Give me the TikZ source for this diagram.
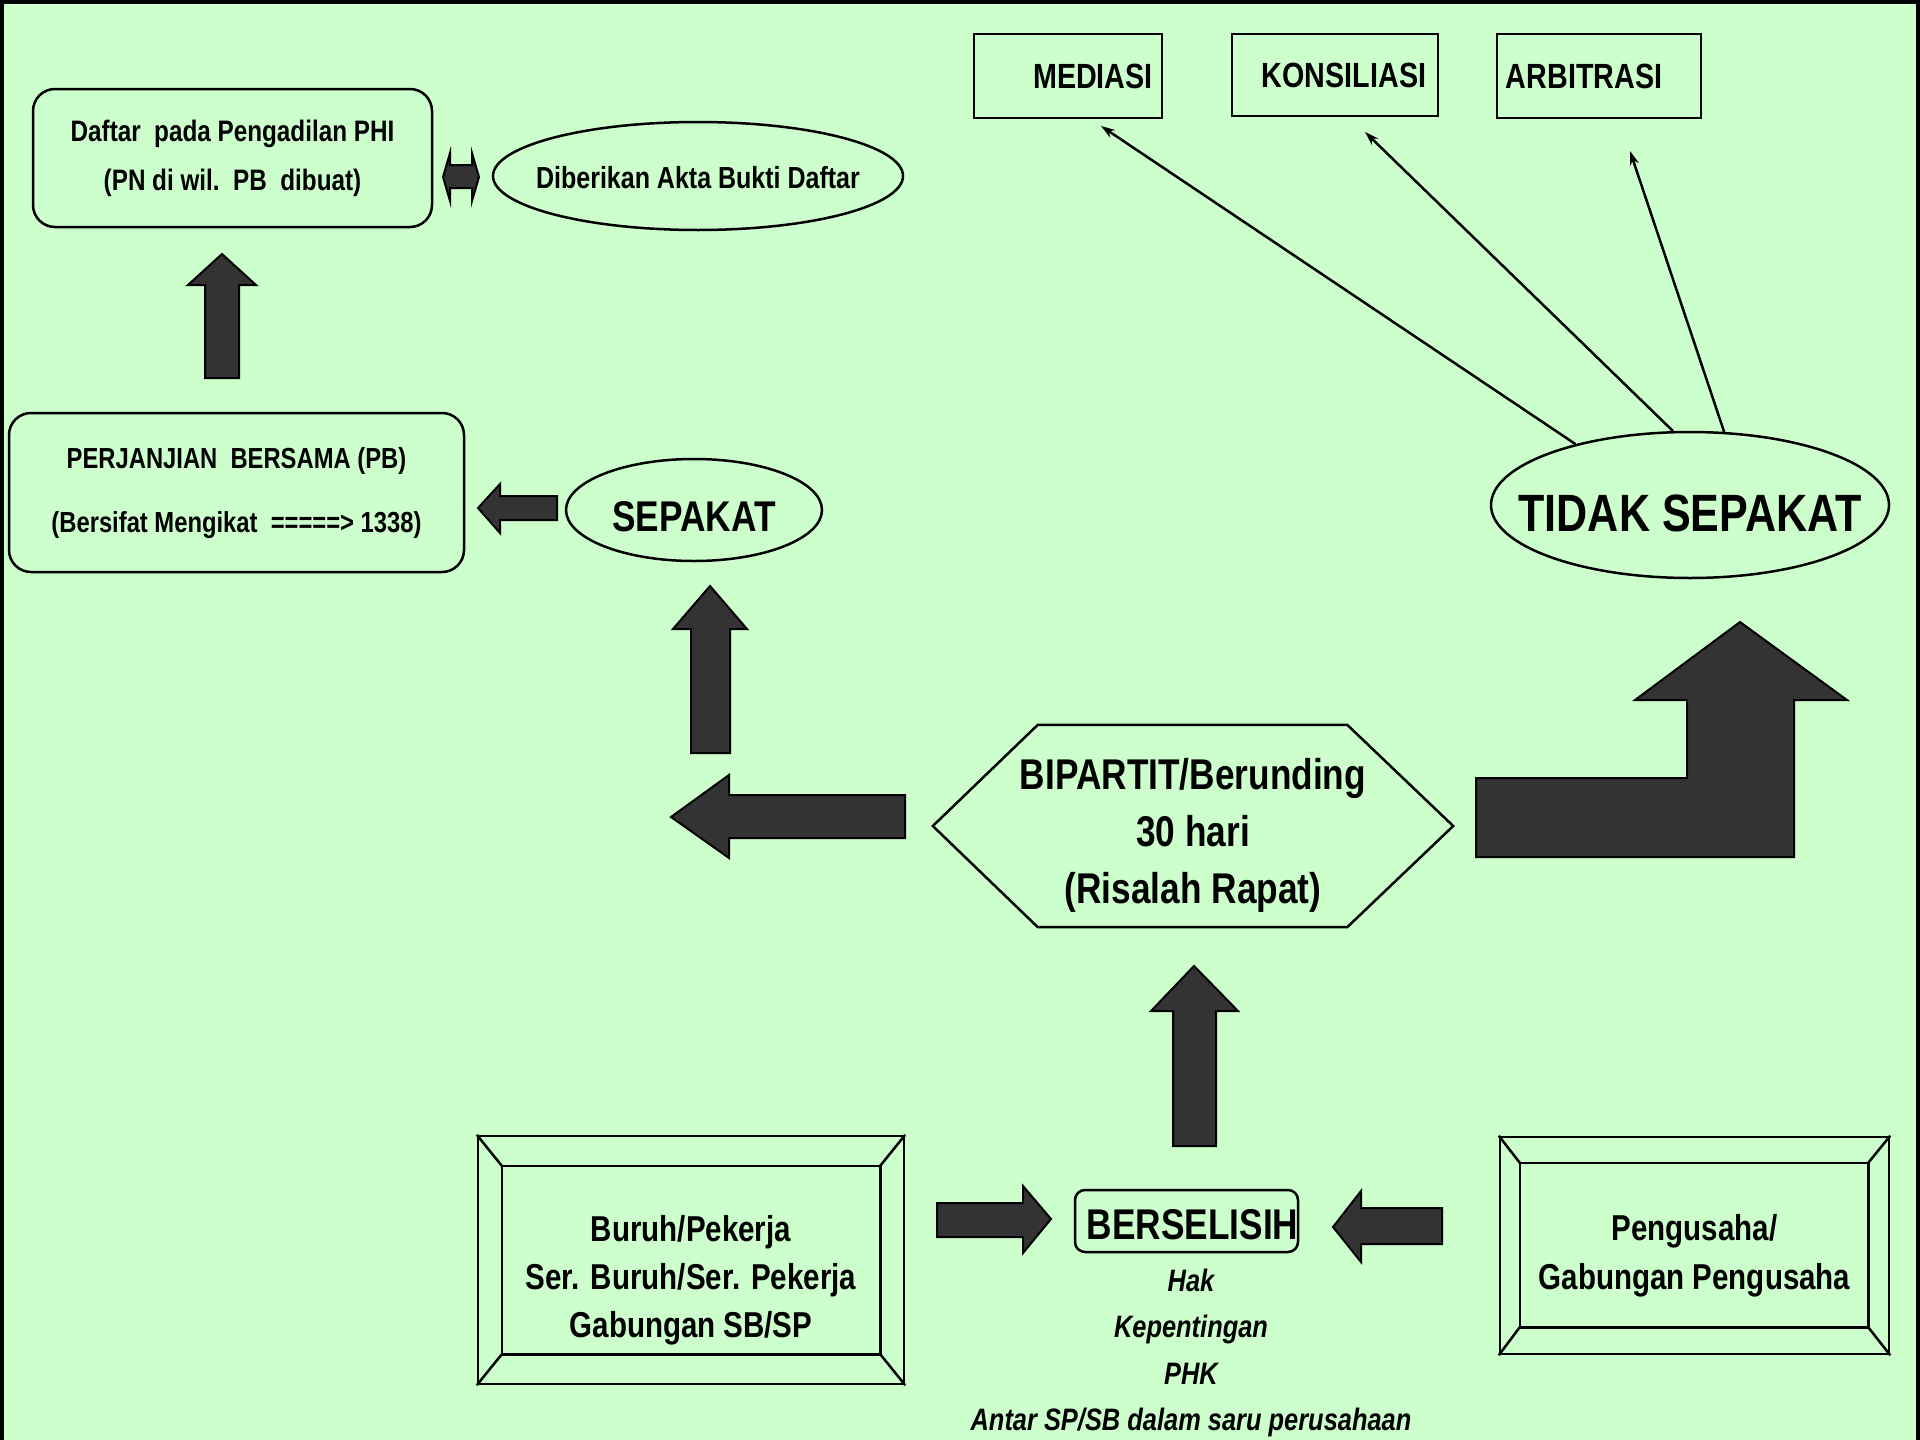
\documentclass[tikz,border=0pt]{standalone}
\usepackage{fontspec}
\usetikzlibrary{shapes.geometric,arrows.meta,calc}
\newfontfamily\nar[FakeStretch=0.82]{Liberation Sans}
\definecolor{bg}{HTML}{CCFFCC}
\definecolor{blockfill}{HTML}{333333}
% lower a line of text inside its node by #1 (adds 2x#1 of head room)
\newcommand\lowered[2]{\raisebox{0pt}[\dimexpr\height+#1*2\relax][\depth]{#2}}

\begin{document}
\begin{tikzpicture}[x=1pt,y=-1pt,
  txt/.style={font=\nar\bfseries, text=black, align=center, inner sep=0pt},
  rbox/.style={txt, draw, line width=2.5pt, rounded corners=22pt},
  sbox/.style={txt, draw, line width=2.5pt},
  oval/.style={txt, draw, ellipse, line width=2.5pt},
  blockarrow/.style={fill=blockfill, draw=black, line width=2pt, line join=miter},
  thinarrow/.style={line width=2.5pt, -{Stealth[length=14pt,width=9pt]}},
  bevel/.style={line width=2.5pt},
  small/.style={font=\nar\bfseries\fontsize{29pt}{49pt}\selectfont},
  big/.style={font=\nar\bfseries\fontsize{43pt}{57pt}\selectfont},
  mid/.style={font=\nar\bfseries\fontsize{36pt}{48pt}\selectfont},
  note/.style={txt, anchor=base, font=\nar\bfseries\itshape\fontsize{31pt}{37pt}\selectfont}]

% canvas and frame
\useasboundingbox (0,0) rectangle (1920,1440);
\fill[bg] (0,0) rectangle (1920,1440);
\draw[line width=4pt] (2,1450) -- (2,2) -- (1918,2) -- (1918,1450);

% upper left: registration and agreement
\node[rbox, font=\nar\bfseries\fontsize{29.6pt}{49pt}\selectfont, minimum width=399pt, minimum height=138pt] (daftar) at (232.5,158)
  {Daftar\ \ pada Pengadilan PHI\\(PN di wil.\ \ PB\ \ dibuat)};
\node[oval, font=\nar\bfseries\fontsize{30.5pt}{40pt}\selectfont, minimum width=410pt, minimum height=108pt] (akta) at (698,176)
  {\lowered{2pt}{\makebox[0pt]{Diberikan Akta Bukti Daftar}}};
\node[rbox, minimum width=455pt, minimum height=159pt, font=\nar\bfseries\fontsize{29pt}{64pt}\selectfont] (pb) at (236.5,492.5)
  {\lowered{1pt}{PERJANJIAN\ \ BERSAMA (PB)}\\(Bersifat Mengikat\ \ =====> 1338)};
\node[oval, big, minimum width=256pt, minimum height=102pt] (sepakat) at (694,510)
  {\lowered{7pt}{\makebox[0pt]{SEPAKAT}}};

% upper right: outcomes
\node[oval, font=\nar\bfseries\fontsize{52.5pt}{60pt}\selectfont, minimum width=398pt, minimum height=146pt] (tidak) at (1690,505)
  {\lowered{8pt}{\makebox[0pt]{TIDAK SEPAKAT}}};
\node[sbox, font=\nar\bfseries\fontsize{35pt}{40pt}\selectfont, minimum width=188pt, minimum height=84pt] (mediasi) at (1068,76)
  {\makebox[0pt]{\kern50pt MEDIASI}};
\node[sbox, font=\nar\bfseries\fontsize{35pt}{40pt}\selectfont, minimum width=206pt, minimum height=82pt] (konsiliasi) at (1335,75)
  {\makebox[0pt]{\kern18pt KONSILIASI}};
\node[sbox, font=\nar\bfseries\fontsize{35pt}{40pt}\selectfont, minimum width=204pt, minimum height=84pt] (arbitrasi) at (1599,76)
  {\makebox[0pt]{ARBITRASI\kern30pt}};

\coordinate (tmed) at (1101,126);
\coordinate (tkon) at (1365,132);
\coordinate (tarb) at (1630,151);
\draw[thinarrow] (tidak.152.5) -- (tmed);
\draw[thinarrow] (tidak.103) -- (tkon);
\draw[thinarrow] (tidak.65.3) -- (tarb);

% centre: bipartite negotiation
\node[txt, big, minimum width=520pt, minimum height=202pt] (bip) at (1193,826)
  {\lowered{9pt}{BIPARTIT/Berunding}\\30 hari\\(Risalah Rapat)};
\draw[line width=2.5pt, line join=miter]
  ($(bip.north west)+(105,0)$) -- ($(bip.north east)+(-106,0)$) -- (bip.east)
  -- ($(bip.south east)+(-106,0)$) -- ($(bip.south west)+(105,0)$) -- (bip.west) -- cycle;

% bottom: parties and dispute
\node[rbox, rounded corners=10pt, big, minimum width=223pt, minimum height=62pt] (selisih) at (1186.5,1221)
  {\lowered{4pt}{\makebox[0pt]{\kern12pt BERSELISIH}}};
\node[note] (hak) at (1191,1291) {Hak};
\node[note] (kep) at (1191,1337) {Kepentingan};
\node[note] (phk) at (1191,1384) {PHK};
\node[note] (antar) at (1191,1430) {Antar SP/SB dalam saru perusahaan};

\node[sbox, mid, minimum width=426pt, minimum height=248pt] (buruh) at (691,1260)
  {\lowered{20pt}{Buruh/Pekerja}\\Ser. Buruh/Ser. Pekerja\\Gabungan SB/SP};
\draw[bevel] ($(buruh.north west)+(25,31)$) rectangle ($(buruh.south east)+(-25,-31)$);
\draw[bevel] (buruh.north west) -- ($(buruh.north west)+(25,31)$)
             (buruh.north east) -- ($(buruh.north east)+(-25,31)$)
             (buruh.south west) -- ($(buruh.south west)+(25,-31)$)
             (buruh.south east) -- ($(buruh.south east)+(-25,-31)$);

\node[sbox, font=\nar\bfseries\fontsize{36pt}{49pt}\selectfont, minimum width=389pt, minimum height=217pt] (pengusaha) at (1694.5,1245.5)
  {\lowered{10pt}{Pengusaha/}\\Gabungan Pengusaha};
\draw[bevel] ($(pengusaha.north west)+(21,27)$) rectangle ($(pengusaha.south east)+(-22,-28)$);
\draw[bevel] (pengusaha.north west) -- ($(pengusaha.north west)+(21,27)$)
             (pengusaha.north east) -- ($(pengusaha.north east)+(-22,27)$)
             (pengusaha.south west) -- ($(pengusaha.south west)+(21,-28)$)
             (pengusaha.south east) -- ($(pengusaha.south east)+(-22,-28)$);

% block arrows
\draw[blockarrow] (443,177) -- (450,153) -- (450,165) -- (472,165) -- (472,153) -- (479,177)
  -- (472,201) -- (472,188) -- (450,188) -- (450,201) -- cycle;
\draw[blockarrow] (205,378) -- (205,285) -- (188,285) -- (222,254) -- (256,285) -- (239,285) -- (239,378) -- cycle;
\draw[blockarrow] (557,496) -- (500,496) -- (500,484) -- (478,508) -- (500,533) -- (500,520) -- (557,520) -- cycle;
\draw[blockarrow] (691,753) -- (691,629) -- (673,629) -- (710,586) -- (747,629) -- (730,629) -- (730,753) -- cycle;
\draw[blockarrow] (905,795) -- (729,795) -- (729,775) -- (671,817) -- (729,858) -- (729,838) -- (905,838) -- cycle;
\draw[blockarrow] (1476,778) -- (1687,778) -- (1687,700) -- (1635,700) -- (1740,622) -- (1847,700)
  -- (1794,700) -- (1794,857) -- (1476,857) -- cycle;
\draw[blockarrow] (1173,1146) -- (1173,1011) -- (1151,1011) -- (1194,966) -- (1238,1011) -- (1216,1011) -- (1216,1146) -- cycle;
\draw[blockarrow] (937,1203) -- (1023,1203) -- (1023,1186) -- (1051,1219) -- (1023,1253) -- (1023,1237) -- (937,1237) -- cycle;
\draw[blockarrow] (1442,1208) -- (1361,1208) -- (1361,1191) -- (1333,1227) -- (1361,1262) -- (1361,1244) -- (1442,1244) -- cycle;
\end{tikzpicture}
\end{document}
